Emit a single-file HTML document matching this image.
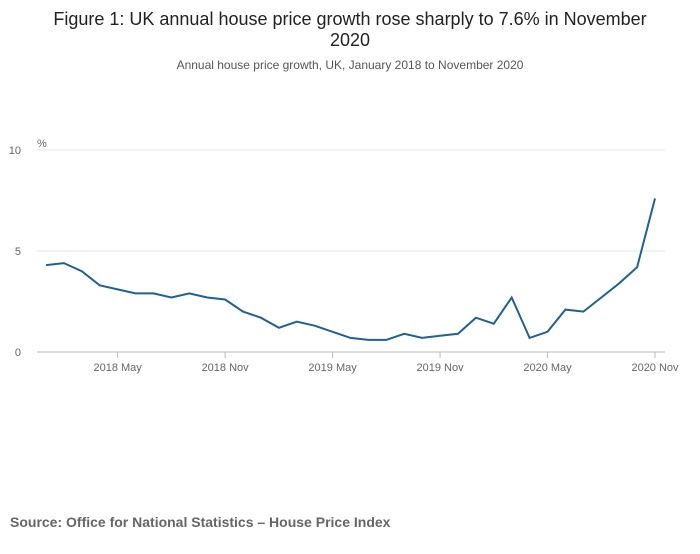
<!DOCTYPE html>
<html><head><meta charset="utf-8"><style>
body{margin:0;background:#fff;font-family:"Liberation Sans",sans-serif;}
svg text{font-family:"Liberation Sans",sans-serif;}
</style></head><body>
<svg width="700" height="549" xmlns="http://www.w3.org/2000/svg">
<text x="350" y="25" text-anchor="middle" font-size="18" fill="#222">Figure 1: UK annual house price growth rose sharply to 7.6% in November</text>
<text x="350" y="46" text-anchor="middle" font-size="18" fill="#222">2020</text>
<text x="350" y="69" text-anchor="middle" font-size="12" fill="#555">Annual house price growth, UK, January 2018 to November 2020</text>
<text x="37" y="147" font-size="11" fill="#666">%</text>
<g id="grid"></g>
<g id="axes"></g>
<path id="line" fill="none" stroke="#206095" stroke-width="2"/>
<text x="10" y="527" font-size="14" font-weight="bold" fill="#666">Source: Office for National Statistics – House Price Index</text>
</svg>
<script>
const values=[4.3,4.4,4.0,3.3,3.1,2.9,2.9,2.7,2.9,2.7,2.6,2.0,1.7,1.2,1.5,1.3,1.0,0.7,0.6,0.6,0.9,0.7,0.8,0.9,1.7,1.4,2.7,0.7,1.0,2.1,2.0,2.7,3.4,4.2,7.6];
const yTicks=[0,5,10];
const xTickIdx=[4,10,16,22,28,34];
const xTickLabels=["2018 May","2018 Nov","2019 May","2019 Nov","2020 May","2020 Nov"];
const NS="http://www.w3.org/2000/svg";
const x=i=>46+i*(655-46)/34;
const y=v=>352-v*20.2;
const grid=document.getElementById('grid'),axes=document.getElementById('axes');
yTicks.forEach(t=>{
 const l=document.createElementNS(NS,'line');
 
 
 l.setAttribute('x1',37);l.setAttribute('x2',665);l.setAttribute('y1',y(t));l.setAttribute('y2',y(t));
 l.setAttribute('stroke',t===0?'#bbb':'#e4e4e4');l.setAttribute('stroke-width',1);
 grid.appendChild(l);
 const tx=document.createElementNS(NS,'text');
 
 
 tx.setAttribute('x',21);tx.setAttribute('y',y(t)+4);tx.setAttribute('text-anchor','end');
 tx.setAttribute('font-size','11');tx.setAttribute('fill','#666');tx.textContent=t;
 axes.appendChild(tx);
});
xTickIdx.forEach((idx,k)=>{
 const l=document.createElementNS(NS,'line');
 
 
 l.setAttribute('x1',x(idx));l.setAttribute('x2',x(idx));l.setAttribute('y1',352);l.setAttribute('y2',358);
 l.setAttribute('stroke','#bbb');
 axes.appendChild(l);
 const tx=document.createElementNS(NS,'text');
 
 
 tx.setAttribute('x',x(idx));tx.setAttribute('y',371);tx.setAttribute('text-anchor','middle');
 tx.setAttribute('font-size','11');tx.setAttribute('fill','#666');tx.textContent=xTickLabels[k];
 axes.appendChild(tx);
});
document.getElementById('line').setAttribute('d',values.map((v,i)=>(i?'L':'M')+x(i).toFixed(1)+','+y(v).toFixed(1)).join(''));
</script>
</body></html>
